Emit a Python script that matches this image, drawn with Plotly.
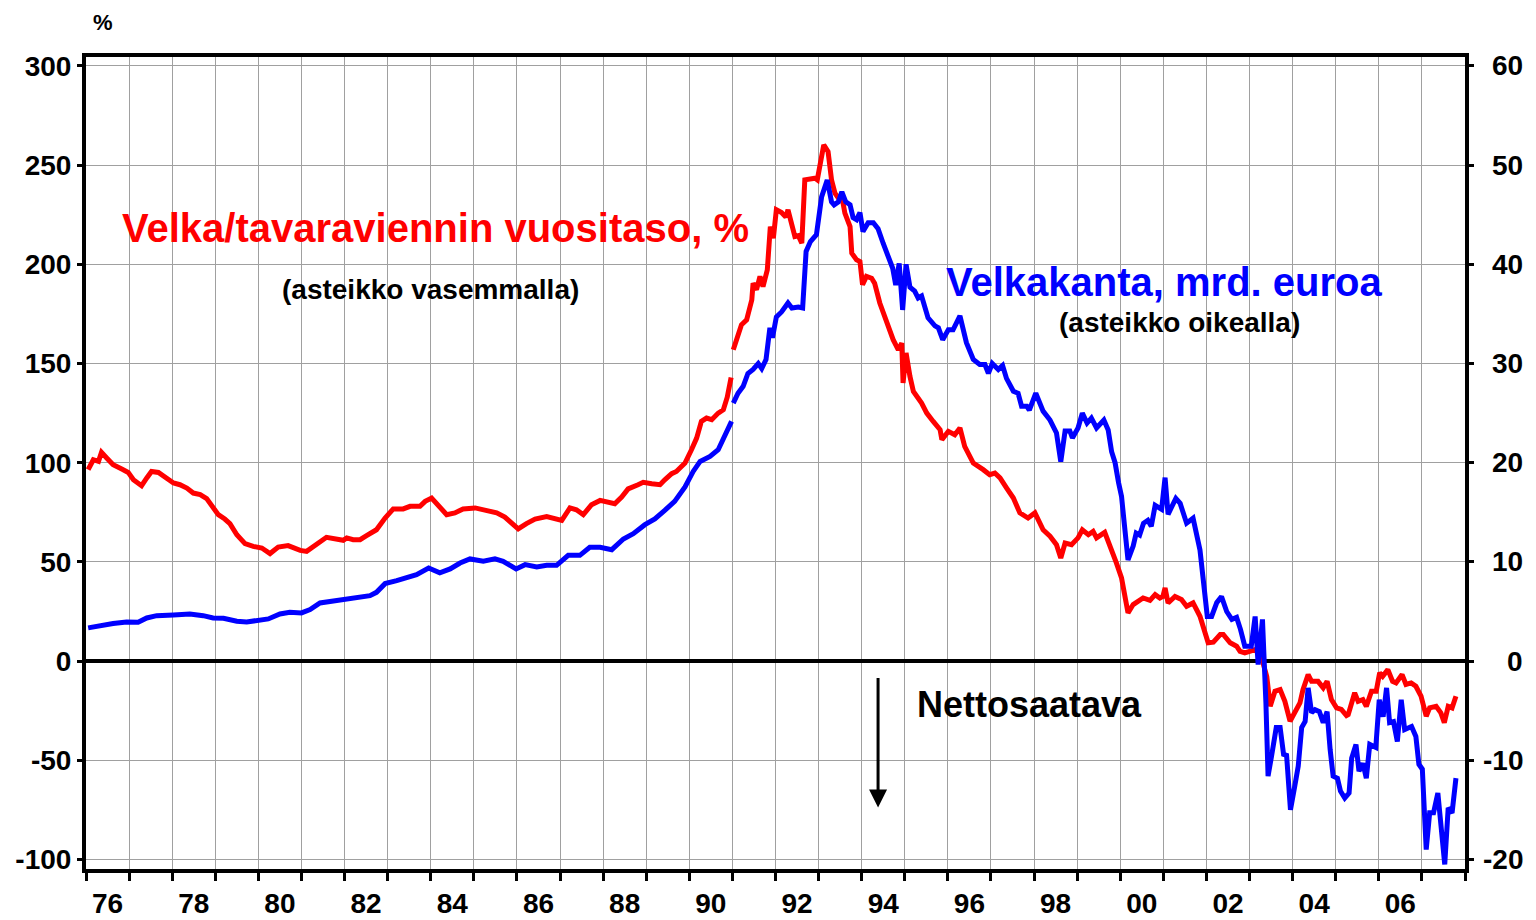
import plotly.graph_objects as go

# ---------------- data ----------------
# Debt / annual goods exports, % (left axis) - series up to end of 1990
red_years_a = [
    1976.05,1976.17,1976.29,1976.36,1976.48,1976.63,1976.83,1976.98,1977.10,1977.29,
    1977.41,1977.52,1977.68,1977.83,1978.03,1978.18,1978.34,1978.49,1978.65,1978.80,
    1978.95,1979.07,1979.22,1979.34,1979.50,1979.69,1979.88,1980.08,1980.27,1980.46,
    1980.69,1980.97,1981.12,1981.35,1981.58,1981.97,1982.05,1982.20,1982.36,1982.51,
    1982.74,1982.94,1983.13,1983.36,1983.52,1983.75,1983.87,1984.02,1984.21,1984.37,
    1984.56,1984.75,1985.03,1985.22,1985.37,1985.53,1985.72,1985.88,1986.03,1986.22,
    1986.42,1986.69,1986.88,1987.04,1987.23,1987.38,1987.54,1987.73,1987.93,1988.08,
    1988.27,1988.43,1988.58,1988.81,1988.93,1989.13,1989.32,1989.43,1989.59,1989.70,
    1989.90,1990.05,1990.17,1990.28,1990.40,1990.52,1990.67,1990.79,1990.88,1990.97,
]
red_vals_a = [
    96.5,101.5,100.7,105.2,102.4,99.0,96.8,95.1,91.4,88.4,
    92.3,95.6,95.1,92.8,89.8,88.9,87.2,84.7,83.9,81.9,
    77.2,73.8,71.6,69.3,63.7,59.2,57.8,57.0,54.2,57.5,
    58.2,55.8,55.3,58.7,62.4,60.9,62.1,61.2,61.2,63.2,
    66.2,72.1,76.7,76.7,78.0,78.0,80.5,82.2,77.2,73.8,
    74.7,76.7,77.2,76.3,76.0,74.7,72.6,69.6,66.6,69.3,
    71.6,72.9,71.6,70.9,77.2,76.3,73.8,78.8,81.0,80.5,
    79.3,82.7,86.8,88.9,90.1,89.4,88.9,91.4,94.5,95.6,
    99.8,106.5,112.4,120.8,122.5,121.7,125.0,126.7,133.0,143.0,
]
# series from 1991 onwards
red_years_b = [
    1991.02,1991.13,1991.21,1991.33,1991.45,1991.48,1991.56,1991.64,1991.71,1991.81,
    1991.88,1991.95,1992.02,1992.14,1992.24,1992.29,1992.45,1992.53,1992.61,1992.68,
    1992.84,1992.92,1992.97,1993.07,1993.12,1993.22,1993.30,1993.38,1993.46,1993.54,
    1993.61,1993.73,1993.77,1993.88,1993.96,1994.02,1994.11,1994.23,1994.30,1994.42,
    1994.58,1994.73,1994.85,1994.93,1994.96,1995.03,1995.12,1995.20,1995.39,1995.51,
    1995.66,1995.82,1995.86,1996.01,1996.16,1996.28,1996.39,1996.59,1996.82,1996.97,
    1997.09,1997.21,1997.36,1997.52,1997.67,1997.86,1998.02,1998.21,1998.37,1998.52,
    1998.62,1998.72,1998.87,1999.02,1999.12,1999.26,1999.37,1999.45,1999.64,1999.80,
    1999.91,2000.03,2000.10,2000.18,2000.30,2000.41,2000.53,2000.69,2000.81,2000.92,
    2000.99,2001.04,2001.11,2001.27,2001.42,2001.54,2001.69,2001.85,2002.04,2002.16,
    2002.32,2002.39,2002.55,2002.70,2002.78,2002.89,2003.13,2003.28,2003.40,2003.48,
    2003.59,2003.71,2003.82,2003.94,2004.05,2004.17,2004.24,2004.36,2004.44,2004.59,
    2004.71,2004.80,2004.90,2005.02,2005.13,2005.25,2005.29,2005.44,2005.52,2005.63,
    2005.71,2005.83,2005.94,2006.02,2006.09,2006.21,2006.32,2006.40,2006.54,2006.63,
    2006.75,2006.86,2006.98,2007.10,2007.18,2007.33,2007.44,2007.52,2007.61,2007.70,
    2007.79,
]
red_vals_b = [
    156.9,164.5,169.5,172.0,182.1,190.5,187.2,193.9,188.8,197.2,
    219.0,213.2,227.5,226.1,223.8,227.5,214.0,214.4,210.7,242.6,
    243.4,243.4,242.6,255.2,260.2,256.8,242.6,235.9,233.4,234.2,
    225.8,219.0,205.6,202.3,201.4,189.7,193.9,193.0,190.5,180.5,
    170.4,162.0,156.9,160.3,140.2,155.3,143.5,135.9,130.1,125.0,
    120.8,116.6,111.6,115.8,114.1,117.5,108.2,99.8,96.5,94.0,
    94.8,92.3,87.3,82.2,74.7,72.1,74.7,66.2,62.9,58.7,
    52.0,59.5,58.7,62.1,66.2,63.7,65.4,62.1,64.9,56.2,
    49.5,41.9,32.6,24.3,28.5,30.1,31.8,30.6,33.5,31.8,
    32.6,36.9,29.3,32.6,31.0,27.6,29.3,22.6,9.2,9.5,
    13.4,13.4,9.2,7.5,4.9,4.1,5.8,1.6,-7.7,-22.8,
    -15.2,-14.4,-20.3,-30.3,-26.1,-21.1,-14.4,-6.8,-10.2,-10.2,
    -13.5,-10.2,-19.4,-23.6,-24.4,-27.5,-27.0,-16.0,-20.3,-19.4,
    -22.8,-15.2,-15.2,-5.9,-7.7,-4.3,-10.2,-11.0,-6.8,-11.8,
    -11.0,-12.7,-17.7,-27.8,-23.6,-22.8,-26.1,-31.1,-22.8,-23.6,
    -17.7,
]

# Debt stock, bn euro (right axis)
blue_years_a = [
    1976.05,1976.32,1976.63,1976.94,1977.21,1977.41,1977.64,1978.03,1978.41,1978.72,
    1978.95,1979.19,1979.50,1979.73,1980.04,1980.23,1980.50,1980.73,1981.00,1981.20,
    1981.43,1981.66,1981.97,1982.28,1982.59,1982.74,1982.94,1983.21,1983.44,1983.67,
    1983.95,1984.21,1984.45,1984.68,1984.91,1985.22,1985.49,1985.68,1985.98,1986.19,
    1986.46,1986.69,1986.92,1987.19,1987.46,1987.69,1987.93,1988.20,1988.47,1988.70,
    1988.97,1989.20,1989.43,1989.66,1989.90,1990.09,1990.25,1990.48,1990.67,1990.83,
    1990.98,
]
blue_vals_a = [
    3.35,3.58,3.78,3.95,3.91,4.35,4.58,4.65,4.75,4.58,
    4.35,4.31,4.01,3.95,4.18,4.25,4.75,4.92,4.86,5.19,
    5.86,6.03,6.20,6.37,6.60,6.93,7.81,8.11,8.38,8.72,
    9.39,8.89,9.29,9.89,10.30,10.06,10.30,10.06,9.29,9.72,
    9.49,9.65,9.65,10.66,10.66,11.47,11.47,11.23,12.31,12.85,
    13.75,14.33,15.19,16.10,17.55,19.12,20.13,20.63,21.31,22.65,
    24.16,
]
blue_years_b = [
    1991.02,1991.13,1991.25,1991.36,1991.48,1991.60,1991.68,1991.78,1991.87,1991.93,
    1992.02,1992.14,1992.29,1992.38,1992.53,1992.63,1992.71,1992.81,1992.95,1993.07,
    1993.20,1993.30,1993.36,1993.46,1993.54,1993.63,1993.73,1993.80,1993.88,1993.96,
    1994.03,1994.15,1994.27,1994.38,1994.50,1994.65,1994.72,1994.79,1994.87,1994.95,
    1995.03,1995.12,1995.23,1995.31,1995.39,1995.54,1995.70,1995.78,1995.88,1996.01,
    1996.12,1996.28,1996.43,1996.59,1996.74,1996.86,1996.94,1997.03,1997.17,1997.27,
    1997.36,1997.52,1997.63,1997.71,1997.83,1997.89,1998.04,1998.21,1998.37,1998.52,
    1998.62,1998.72,1998.83,1998.89,1999.02,1999.12,1999.23,1999.33,1999.45,1999.62,
    1999.72,1999.80,1999.88,1999.96,2000.03,2000.10,2000.18,2000.30,2000.37,2000.45,
    2000.54,2000.64,2000.72,2000.81,2000.96,2001.04,2001.11,2001.29,2001.39,2001.54,
    2001.69,2001.85,2001.94,2002.02,2002.12,2002.24,2002.35,2002.47,2002.59,2002.70,
    2002.79,2002.89,2003.04,2003.13,2003.20,2003.30,2003.38,2003.43,2003.51,2003.62,
    2003.71,2003.79,2003.86,2003.95,2004.05,2004.13,2004.21,2004.29,2004.36,2004.44,
    2004.52,2004.62,2004.71,2004.80,2004.87,2004.94,2005.04,2005.11,2005.21,2005.31,
    2005.37,2005.47,2005.54,2005.63,2005.71,2005.79,2005.93,2006.01,2006.10,2006.18,
    2006.25,2006.34,2006.43,2006.52,2006.60,2006.76,2006.86,2006.93,2007.01,2007.10,
    2007.18,2007.27,2007.37,2007.45,2007.53,2007.61,2007.70,2007.79,
]
blue_vals_b = [
    26.0,27.0,27.7,29.0,29.4,30.0,29.5,30.4,33.6,32.6,
    34.7,35.2,36.1,35.6,35.7,35.6,41.3,42.3,43.0,46.8,
    48.5,46.3,46.0,46.3,47.3,46.3,46.0,44.7,44.5,45.2,
    43.3,44.2,44.2,43.6,42.1,40.6,39.6,37.9,40.1,35.4,
    40.0,37.7,37.3,36.6,36.8,34.6,33.8,33.6,32.4,33.4,
    33.4,34.8,32.1,30.4,29.9,29.9,29.0,30.0,29.4,29.8,
    28.5,27.2,27.0,25.7,25.7,25.3,27.0,25.2,24.3,23.0,
    20.1,23.2,23.2,22.5,23.5,25.0,24.0,24.5,23.5,24.3,
    23.3,21.1,20.0,18.0,16.6,13.6,10.2,11.6,12.9,12.7,
    13.9,14.2,13.6,15.7,15.3,18.5,14.8,16.4,15.9,13.9,
    14.4,11.2,7.9,4.5,4.5,5.9,6.5,5.0,4.2,4.4,
    3.2,1.5,1.5,4.5,-0.35,4.2,-4.2,-11.6,-9.6,-6.7,
    -6.7,-9.4,-9.5,-15.0,-12.6,-10.6,-6.7,-6.1,-2.7,-5.2,
    -4.9,-5.1,-6.2,-5.1,-8.9,-11.6,-11.8,-13.1,-13.8,-13.3,
    -9.8,-8.4,-11.1,-10.3,-11.8,-8.4,-8.7,-3.9,-5.6,-2.7,
    -6.2,-6.1,-8.1,-3.9,-6.9,-6.6,-7.6,-10.4,-10.9,-19.0,
    -15.3,-15.3,-13.3,-16.6,-20.5,-14.8,-15.3,-11.8,
]

# axis ticks / labels
left_ticks = [-100, -50, 0, 50, 100, 150, 200, 250, 300]
left_labels = ["-100", "-50", "0", "50", "100", "150", "200", "250", "300"]
right_ticks = [-20, -10, 0, 10, 20, 30, 40, 50, 60]
right_labels = ["-20", "-10", "0", "10", "20", "30", "40", "50", "60"]
year_label_pos = [1976.5 + 2 * i for i in range(16)]
year_labels = ["76", "78", "80", "82", "84", "86", "88", "90",
               "92", "94", "96", "98", "00", "02", "04", "06"]

# ---------------- figure ----------------
FONT = "Liberation Sans, Arial, Helvetica, sans-serif"
RED = "#ff0000"
BLUE = "#0000ff"
GRID = "#a0a0a0"
TICKFONT = dict(size=28, family=FONT, weight="bold", color="black")

fig = go.Figure()
fig.add_trace(go.Scatter(x=red_years_a + [None] + red_years_b,
                         y=red_vals_a + [None] + red_vals_b,
                         mode="lines", line=dict(color=RED, width=5),
                         connectgaps=False, yaxis="y", showlegend=False))
fig.add_trace(go.Scatter(x=blue_years_a + [None] + blue_years_b,
                         y=blue_vals_a + [None] + blue_vals_b,
                         mode="lines", line=dict(color=BLUE, width=5),
                         connectgaps=False, yaxis="y2", showlegend=False))

# the page adds an 8px body margin, so the figure is 8px smaller each way
fig.update_layout(
    width=1528, height=912,
    margin=dict(l=78, r=71, t=49, b=51, autoexpand=False),
    paper_bgcolor="white", plot_bgcolor="white",
    font=dict(family=FONT, color="black"),
    xaxis=dict(
        range=[1976, 2008], automargin=False,
        tickmode="array", tickvals=year_label_pos, ticktext=year_labels,
        ticks="outside", ticklen=6, tickcolor="rgba(0,0,0,0)",
        tickfont=TICKFONT, ticklabelstandoff=0,
        showgrid=False, zeroline=False,
        showline=True, linecolor="black", linewidth=4, mirror=True,
        minor=dict(tickmode="linear", tick0=1976, dtick=1,
                   ticks="outside", ticklen=8, tickwidth=3, tickcolor="black",
                   showgrid=True, gridcolor=GRID, gridwidth=1),
    ),
    yaxis=dict(
        range=[-104.8, 304.5], automargin=False,
        tickmode="array", tickvals=left_ticks, ticktext=left_labels,
        ticks="outside", ticklen=5, tickwidth=3, tickcolor="black",
        tickfont=TICKFONT,
        ticklabelstandoff=0,
        showgrid=True, gridcolor=GRID, gridwidth=1,
        zeroline=True, zerolinecolor="black", zerolinewidth=3.5,
        showline=True, linecolor="black", linewidth=4,
    ),
    yaxis2=dict(
        range=[-20.96, 60.9], overlaying="y", side="right", automargin=False,
        tickmode="array", tickvals=right_ticks,
        ticks="outside", ticklen=5, tickwidth=3, tickcolor="black",
        showticklabels=False, showgrid=False, zeroline=False,
        showline=True, linecolor="black", linewidth=4,
    ),
)

annotations = []
# right-axis labels (right aligned as in the original)
for v, t in zip(right_ticks, right_labels):
    annotations.append(dict(xref="paper", yref="y2", x=1, y=v, xshift=60,
                            xanchor="right", yanchor="middle", showarrow=False,
                            text=t, font=TICKFONT))

annotations += [
    dict(xref="paper", yref="paper", x=0.0123, y=1.0431, text="%", showarrow=False,
         xanchor="center", yanchor="middle", borderpad=0,
         font=dict(size=22, family=FONT, weight="bold", color="black")),
    dict(xref="x", yref="y", x=1984.12, y=218.4, text="Velka/tavaraviennin vuositaso, %",
         showarrow=False, xanchor="center", yanchor="middle",
         font=dict(size=40, family=FONT, weight="bold", color=RED)),
    dict(xref="x", yref="y", x=1984.0, y=187.2, text="(asteikko vasemmalla)",
         showarrow=False, xanchor="center", yanchor="middle",
         font=dict(size=28, family=FONT, weight="bold", color="black")),
    dict(xref="x", yref="y", x=2001.02, y=191.2, text="Velkakanta, mrd. euroa",
         showarrow=False, xanchor="center", yanchor="middle",
         font=dict(size=40, family=FONT, weight="bold", color=BLUE)),
    dict(xref="x", yref="y", x=2001.38, y=170.5, text="(asteikko oikealla)",
         showarrow=False, xanchor="center", yanchor="middle",
         font=dict(size=28, family=FONT, weight="bold", color="black")),
    dict(xref="x", yref="y", x=1997.9, y=-21.9, text="Nettosaatava",
         showarrow=False, xanchor="center", yanchor="middle",
         font=dict(size=36, family=FONT, weight="bold", color="black")),
    dict(xref="x", yref="y", x=1994.38, y=-73.8, ax=1994.38, ay=-7.8,
         axref="x", ayref="y", text="", showarrow=True,
         arrowhead=2, arrowsize=1.2, arrowwidth=3, arrowcolor="black"),
]
fig.update_layout(annotations=annotations)

fig.write_html("out.html")
